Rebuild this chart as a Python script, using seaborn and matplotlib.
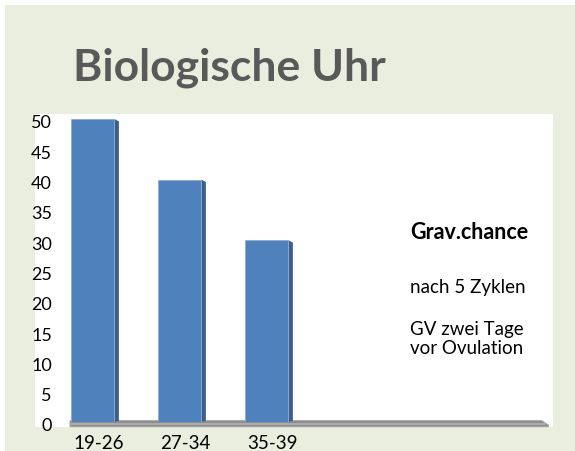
import matplotlib
matplotlib.use("Agg")
import matplotlib.pyplot as plt
import matplotlib.transforms as mtransforms
from matplotlib.patches import Rectangle, Polygon
import seaborn as sns

# Daten
altersgruppen = ["19-26", "27-34", "35-39"]
chance = [50, 40, 30]
y_ticks = [0, 5, 10, 15, 20, 25, 30, 35, 40, 45, 50]
notiz_titel = "Grav.chance"
notiz_zeilen = ["nach 5 Zyklen", "GV zwei Tage\nvor Ovulation"]

sns.set_theme(style="white")
plt.rcParams['font.family'] = ['Lato', 'DejaVu Sans']

W, H = 575, 452
fig = plt.figure(figsize=(W / 100, H / 100), dpi=100)
fig.patch.set_facecolor("white")

# gruener Hintergrund und weisses Feld
fig.patches.append(Rectangle((5 / W, 0), 1, 1 - 6 / H, transform=fig.transFigure,
                             facecolor="#eaeedf", edgecolor="none", zorder=-2))
fig.patches.append(Rectangle((35 / W, 1 - 428 / H), 518 / W, 313 / H, transform=fig.transFigure,
                             facecolor="white", edgecolor="none", zorder=-1))

ax = fig.add_axes([70 / W, 1 - 423 / H, 478.5 / W, 303 / H])
ax.set_facecolor("none")
ax.set_zorder(1)

sns.barplot(x=altersgruppen, y=chance, color="#4f81bd", saturation=1, width=0.5,
            edgecolor="#8faad0", linewidth=0.6, ax=ax, zorder=3)

ax.set_xlim(-0.26, 5.24)
ax.set_ylim(0, 50)

# Boden (3D-Effekt)
x0, x1 = ax.get_xlim()
boden = Polygon([(x0, 0.25), (x1 - 0.08, 0.25), (x1, -0.5), (x1, -0.8), (x0, -0.8)],
                closed=True, facecolor="#8e8e8e", edgecolor="#a8a8a8", lw=0.6,
                clip_on=False, zorder=1)
ax.add_patch(boden)
ax.plot([x0, x1 - 0.04], [-0.28, -0.28], color="#b4b4b4", lw=1.1, clip_on=False, zorder=2)

# Seitenflaechen der Saeulen
dx = 4.5 / 87
for p in ax.patches[:len(chance)]:
    xr = p.get_x() + p.get_width()
    h = p.get_height()
    side = Polygon([(xr, h), (xr + dx, h - 0.4), (xr + dx, 0.2), (xr, 0)], closed=True,
                   facecolor="#3a5f8f", edgecolor="none", clip_on=False, zorder=2.5)
    ax.add_patch(side)

ax.set_yticks(y_ticks)
ax.tick_params(axis="y", length=0, pad=13, labelsize=13, labelcolor="black")
ax.tick_params(axis="x", length=0, pad=9, labelsize=13.5, labelcolor="black")
shift = mtransforms.ScaledTranslation(6 / 100, 0, fig.dpi_scale_trans)
for lbl in ax.get_xticklabels():
    lbl.set_transform(lbl.get_transform() + shift)
yshift = mtransforms.ScaledTranslation(0, -2 / 100, fig.dpi_scale_trans)
for lbl in ax.get_yticklabels():
    lbl.set_transform(lbl.get_transform() + yshift)
for s in ax.spines.values():
    s.set_visible(False)
ax.set_xlabel("")
ax.set_ylabel("")

# Titel
fig.text(73 / W, 1 - 81 / H, "Biologische Uhr", fontsize=32, fontweight="bold",
         color="#595959", ha="left", va="baseline")

# Hinweise rechts
fig.text(410 / W, 1 - 233 / H, notiz_titel, fontsize=15.5, fontweight="bold",
         color="black", ha="left", va="center")
fig.text(410 / W, 1 - 287 / H, notiz_zeilen[0], fontsize=13.5, color="black",
         ha="left", va="center")
fig.text(410 / W, 1 - 339 / H, notiz_zeilen[1], fontsize=13.5, color="black",
         ha="left", va="center", linespacing=1.1)

fig.savefig("out.png", dpi=100, facecolor=fig.get_facecolor())
